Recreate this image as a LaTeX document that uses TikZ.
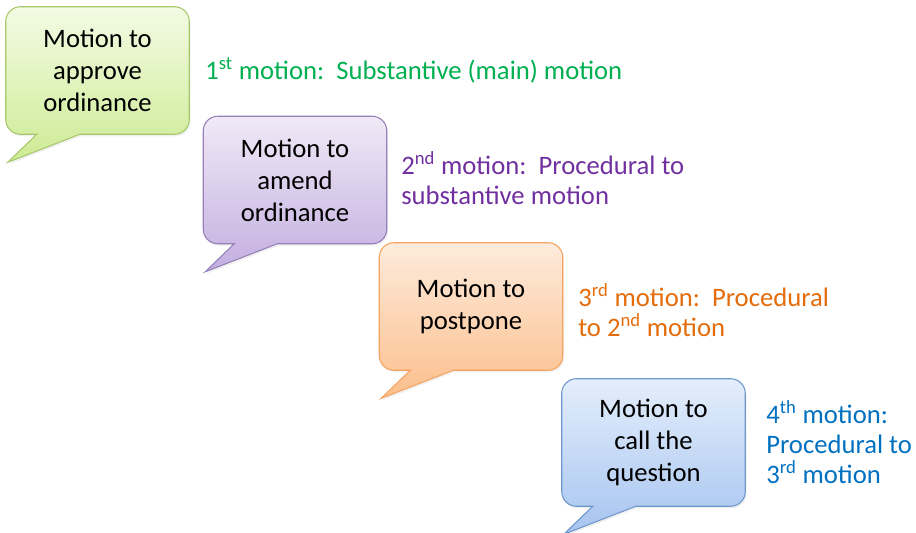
\documentclass[tikz,border=0pt]{standalone}
\usepackage{fontspec}
\setmainfont{Carlito}
\usetikzlibrary{calc,backgrounds,shadows}
\definecolor{gtop}{HTML}{F3FBE4}
\definecolor{gbot}{HTML}{CDEB94}
\definecolor{gline}{HTML}{A8C86C}
\definecolor{ptop}{HTML}{F0EAF7}
\definecolor{pbot}{HTML}{C3AEDF}
\definecolor{pline}{HTML}{9580B8}
\definecolor{otop}{HTML}{FEEBDC}
\definecolor{obot}{HTML}{FBBF8C}
\definecolor{oline}{HTML}{F5A460}
\definecolor{btop}{HTML}{E4EEFB}
\definecolor{bbot}{HTML}{A6C4F0}
\definecolor{bline}{HTML}{6F97CB}
\definecolor{gtext}{HTML}{00B050}
\definecolor{ptext}{HTML}{7030A0}
\definecolor{otext}{HTML}{E46C0A}
\definecolor{btext}{HTML}{0070C0}

\begin{document}
\begin{tikzpicture}[x=0.75pt, y=-0.75pt,
      bubble/.style={minimum width=137.25pt, minimum height=95.25pt, inner sep=0pt, align=center, font=\fontsize{20}{24}\selectfont},
      note/.style={anchor=west, align=left, inner sep=0pt, font=\fontsize{20}{22.5}\selectfont}]
    \useasboundingbox (0,0) rectangle (916,532);
    % speech bubbles
    \node[bubble] (approve) at (97.5,70.5) {Motion to\\approve\\ordinance};
    \node[bubble] (amend) at (295,180) {Motion to\\amend\\ordinance};
    \node[bubble] (postpone) at (471,306.5) {Motion to\\postpone};
    \node[bubble] (call) at (653.5,442.5) {Motion to\\call the\\question};
    \begin{scope}[on background layer]
      \foreach \n/\c in {approve/g, amend/p, postpone/o, call/b} {
        \path[top color=\c top, bottom color=\c bot, draw=\c line, line width=0.8pt,
              drop shadow={opacity=0.12, shadow xshift=1pt, shadow yshift=-1.5pt}]
          (\n.west) [rounded corners=11pt] -- (\n.north west) -- (\n.north east) -- (\n.south east)
          -- ($(\n.south east)+(-30,0)$) [sharp corners] -- ($(\n.south west)+(74,0)$)
          -- ($(\n.south west)+(2,28)$) -- ($(\n.south west)+(31,0)$)
          -- ($(\n.south west)+(20,0)$) [rounded corners=11pt] -- (\n.south west) -- cycle;
      }
    \end{scope}
    % labels
    \node[note, text=gtext] (first) at (205,70) {1\textsuperscript{st} motion:\ \ Substantive (main) motion};
    \node[note, text=ptext] (second) at (401,178) {2\textsuperscript{nd} motion:\ \ Procedural to\\substantive motion};
    \node[note, text=otext] (third) at (578,310) {3\textsuperscript{rd} motion:\ \ Procedural\\to 2\textsuperscript{nd} motion};
    \node[note, text=btext] (fourth) at (766,442) {4\textsuperscript{th} motion:\\Procedural to\\3\textsuperscript{rd} motion};
  \end{tikzpicture}
\end{document}
